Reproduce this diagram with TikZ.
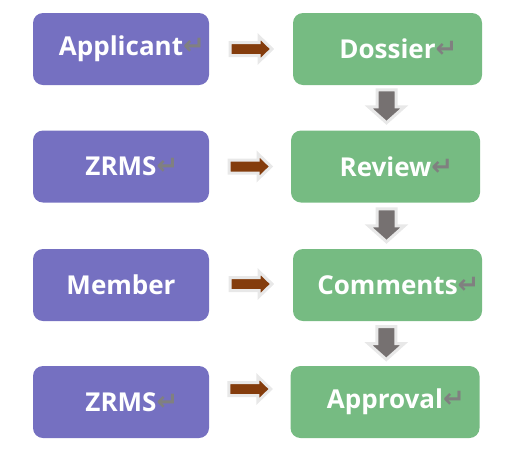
\documentclass[tikz,border=0pt]{standalone}
\usepackage{fontspec}
\setmainfont{Open Sans}
\newfontfamily\symfont{DejaVu Sans}
\usetikzlibrary{calc}

\definecolor{rolepurple}{RGB}{117,112,193}
\definecolor{stagegreen}{RGB}{118,187,130}
\definecolor{arrowbrown}{RGB}{132,60,12}
\definecolor{arrowgray}{RGB}{118,113,113}
\definecolor{arrowrim}{RGB}{232,232,232}

% paragraph mark after a word, kept out of the centring
\newcommand{\retmark}{\rlap{\raisebox{1pt}{\symfont\fontsize{26}{26}\selectfont\color{gray}↵}}}

\tikzset{
  role/.style={rounded corners=10pt, fill=rolepurple, text=white,
    font=\fontsize{26}{30}\selectfont\bfseries,
    minimum width=176pt, minimum height=72pt, inner sep=0pt},
  stage/.style={role, fill=stagegreen, minimum width=189pt},
  rightarr/.style={fill=arrowbrown, draw=arrowrim, line width=3pt},
  downarr/.style={fill=arrowgray, draw=arrowrim, line width=3pt},
}

\begin{document}
\begin{tikzpicture}[x=1pt,y=-1pt]
  \useasboundingbox (0,0) rectangle (508,456);

  % who
  \node[role] (applicant) at (121,49) {Applicant\retmark};
  \node[role] (zrmsa) at (121,166.5) {ZRMS\retmark};
  \node[role] (member) at (121,285) {Member};
  \node[role] (zrmsb) at (121,402) {ZRMS\retmark};

  % what
  \node[stage] (dossier) at (387.5,49) {Dossier\retmark};
  \node[stage] (review) at (385.5,166.5) {Review\retmark};
  \node[stage] (comments) at (387.5,285) {Comments\retmark};
  \node[stage] (approval) at (385,402) {Approval\retmark};

  % left to right
  \foreach \a/\b/\dy in {applicant/dossier/0, zrmsa/review/0, member/comments/1, zrmsb/approval/13}
    \draw[rightarr, shift={($(\a.east)!0.5!(\b.west)+(0,-\dy)$)}]
      (-21,-6.5) -- (8,-6.5) -- (8,-12.5) -- (21,0) -- (8,12.5) -- (8,6.5) -- (-21,6.5) -- cycle;

  % down the chain
  \foreach \a/\b/\dy in {dossier/review/2, review/comments/1, comments/approval/1}
    \draw[downarr, shift={($(\a.south)!0.5!(\b.north)+(0,-\dy)$)}]
      (-9.5,-16) -- (9.5,-16) -- (9.5,1) -- (18,1) -- (0,17) -- (-18,1) -- (-9.5,1) -- cycle;
\end{tikzpicture}
\end{document}
